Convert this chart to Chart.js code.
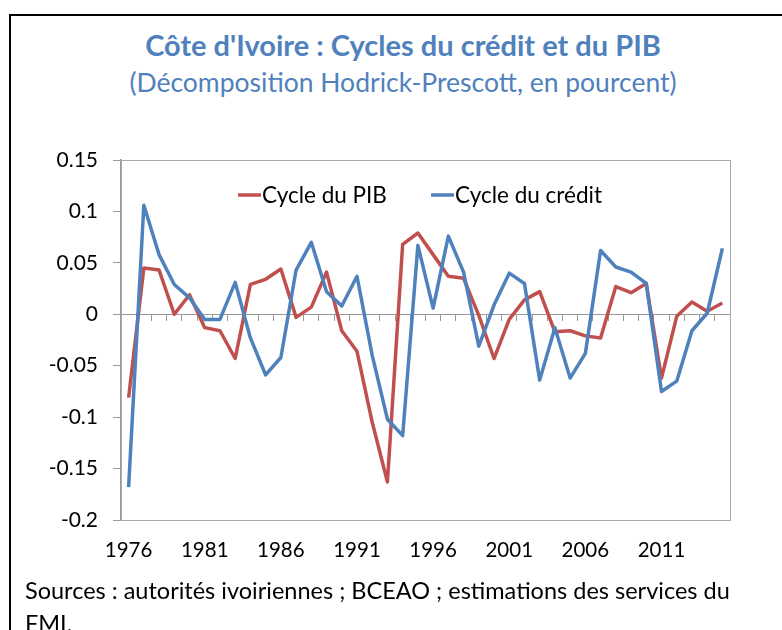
<!DOCTYPE html>
<html lang="fr">
<head>
<meta charset="UTF-8">
<title>Côte d'Ivoire : Cycles du crédit et du PIB</title>
<script src="https://cdn.jsdelivr.net/npm/chart.js"></script>
<style>
  body { margin: 0; width: 782px; height: 630px; overflow: hidden; background: #fff; position: relative; font-family: Lato, sans-serif; }
  #frame { position: absolute; left: 9px; top: 14px; width: 800px; height: 700px; border-left: 2px solid #000; border-top: 2px solid #000; }
  .head { position: absolute; left: 0; width: 806px; text-align: center; color: #4f81bd; white-space: nowrap; }
  #title { top: 28px; font-size: 29px; line-height: 34px; font-weight: bold; }
  #subtitle { top: 66px; font-size: 26.5px; line-height: 32px; }
  #sources { position: absolute; left: 25px; top: 574px; font-size: 23.5px; line-height: 33px; color: #000; white-space: nowrap; }
  #chart { position: absolute; left: 0; top: 0; }
</style>
</head>
<body>
<div id="frame"></div>
<div id="title" class="head">Côte d'Ivoire : Cycles du crédit et du PIB</div>
<div id="subtitle" class="head">(Décomposition Hodrick-Prescott, en pourcent)</div>
<canvas id="chart" width="782" height="630"></canvas>
<div id="sources">Sources : autorités ivoiriennes ; BCEAO ; estimations des services du<br>FMI.</div>

<script>
const years = ['1976','1977','1978','1979','1980','1981','1982','1983','1984','1985',
               '1986','1987','1988','1989','1990','1991','1992','1993','1994','1995',
               '1996','1997','1998','1999','2000','2001','2002','2003','2004','2005',
               '2006','2007','2008','2009','2010','2011','2012','2013','2014','2015'];

const cyclePIB = [-0.081, 0.045, 0.043, 0.000, 0.019, -0.013, -0.016, -0.043, 0.029, 0.034,
                   0.044, -0.003, 0.007, 0.041, -0.016, -0.036, -0.105, -0.163, 0.068, 0.079,
                   0.058, 0.037, 0.035, -0.001, -0.043, -0.005, 0.014, 0.022, -0.017, -0.016,
                  -0.021, -0.023, 0.027, 0.021, 0.030, -0.062, -0.002, 0.012, 0.003, 0.011];

const cycleCredit = [-0.168, 0.106, 0.058, 0.029, 0.016, -0.005, -0.005, 0.031, -0.023, -0.059,
                     -0.042, 0.043, 0.070, 0.022, 0.008, 0.037, -0.040, -0.102, -0.118, 0.067,
                      0.006, 0.076, 0.041, -0.031, 0.009, 0.040, 0.030, -0.064, -0.013, -0.062,
                     -0.038, 0.062, 0.046, 0.041, 0.030, -0.075, -0.065, -0.016, 0.001, 0.064];

const seriesNames = ['Cycle du PIB', 'Cycle du crédit'];
const yTicks = { min: -0.2, max: 0.15, step: 0.05 };

const RED = '#c0504d';
const BLUE = '#4f81bd';
const AXIS = '#9a9a9a';
const FONT = 'Lato';

// gray frame round the plot area
const plotBox = {
  id: 'plotBox',
  beforeDatasetsDraw(chart) {
    const a = chart.chartArea, ctx = chart.ctx;
    ctx.save();
    ctx.strokeStyle = '#ababab';
    ctx.lineWidth = 1;
    ctx.strokeRect(Math.round(a.left) + 0.5, Math.round(a.top) + 0.5,
                   Math.round(a.right - a.left), Math.round(a.bottom - a.top));
    ctx.restore();
  }
};

// legend drawn inside the plot, like the original
const innerLegend = {
  id: 'innerLegend',
  afterDatasetsDraw(chart, args, opts) {
    const a = chart.chartArea, ctx = chart.ctx;
    ctx.save();
    ctx.font = '22.5px ' + FONT;
    ctx.textBaseline = 'middle';
    ctx.fillStyle = '#000';
    chart.data.datasets.forEach((ds, i) => {
      const x = a.left + opts.xs[i];
      const y = a.top + opts.y;
      ctx.strokeStyle = ds.borderColor;
      ctx.lineWidth = 3.5;
      ctx.beginPath();
      ctx.moveTo(x, y);
      ctx.lineTo(x + 23, y);
      ctx.stroke();
      ctx.fillText(ds.label, x + 24, y + 1);
    });
    ctx.restore();
  }
};

new Chart(document.getElementById('chart'), {
  type: 'line',
  data: {
    labels: years,
    datasets: [
      { label: seriesNames[0], data: cyclePIB, borderColor: RED, borderWidth: 3.5,
        pointRadius: 0, tension: 0, fill: false, borderJoinStyle: 'round', order: 1 },
      { label: seriesNames[1], data: cycleCredit, borderColor: BLUE, borderWidth: 3.5,
        pointRadius: 0, tension: 0, fill: false, borderJoinStyle: 'round', order: 0 }
    ]
  },
  options: {
    responsive: false,
    animation: false,
    layout: { padding: { left: 0, right: 52, top: 160, bottom: 70 } },
    plugins: {
      legend: { display: false },
      tooltip: { enabled: false },
      innerLegend: { xs: [117, 310], y: 35 }
    },
    scales: {
      x: {
        type: 'category',
        position: 'bottom',
        offset: true,
        grid: { display: false, drawTicks: false },
        border: { display: false },
        ticks: {
          autoSkip: false, maxRotation: 0, padding: 18, color: '#000',
          font: { family: FONT, size: 20.5 },
          callback: function (v, i) { return i % 5 === 0 ? this.getLabelForValue(v) : ''; }
        },
        afterFit: s => { s.height = 40; }
      },
      x2: {
        type: 'category',
        axis: 'x',
        position: { y: 0 },
        offset: true,
        grid: { offset: true, drawOnChartArea: false, drawTicks: true, tickLength: 6, color: AXIS },
        border: { color: AXIS, width: 1 },
        ticks: { display: false }
      },
      y: {
        min: yTicks.min,
        max: yTicks.max,
        grid: { drawOnChartArea: false, drawTicks: true, tickLength: 8, color: AXIS },
        border: { color: AXIS, width: 1.5 },
        ticks: {
          stepSize: yTicks.step, padding: 15, color: '#000',
          font: { family: FONT, size: 21 },
          callback: v => String(+v.toFixed(2))
        },
        afterFit: s => { s.width = 121; }
      }
    }
  },
  plugins: [plotBox, innerLegend]
});
</script>
</body>
</html>
